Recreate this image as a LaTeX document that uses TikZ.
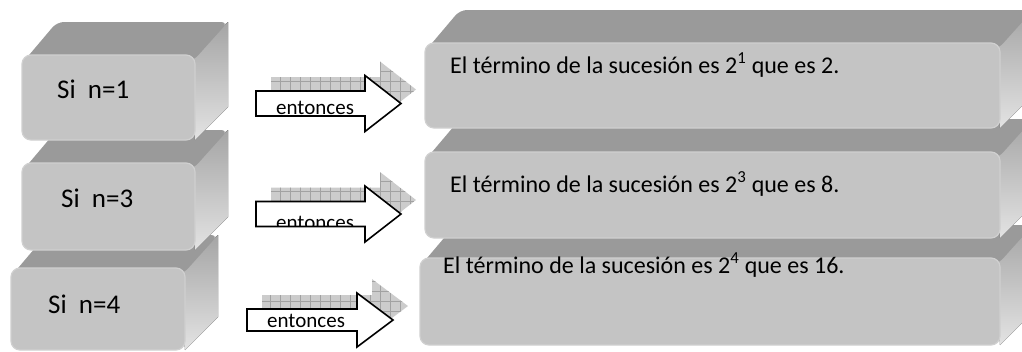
\documentclass[tikz,border=0pt]{standalone}
\usepackage{fontspec}
\setmainfont{Carlito}
\usepackage{tikz}
\usetikzlibrary{patterns.meta}

\definecolor{frontgray}{HTML}{C4C4C4}
\definecolor{rimgray}{HTML}{D0D0D0}
\definecolor{topgray}{HTML}{9A9A9A}
\definecolor{sidegray}{HTML}{E3E3E3}
\definecolor{shadowgray}{HTML}{CCCCCC}
\definecolor{hatchgray}{HTML}{A2A2A2}

\tikzset{
  front/.style={draw=rimgray,line width=1.2pt,fill=frontgray,rounded corners=9pt},
  topface/.style={fill=topgray,rounded corners=7pt},
  sideface/.style={top color=topgray!85!sidegray,middle color=sidegray,bottom color=sidegray},
  whitearrow/.style={draw=black,fill=white,line width=1.6pt,line join=miter},
  shadowarrow/.style={preaction={fill=shadowgray},pattern={Hatch[angle=0,distance=10pt,line width=0.5pt]},pattern color=hatchgray},
  lefttext/.style={inner sep=0pt,anchor=base west,font=\fontsize{27}{32}\selectfont},
  righttext/.style={inner sep=0pt,anchor=base west,font=\fontsize{24}{29}\selectfont},
  arrowtext/.style={inner sep=0pt,anchor=base west,font=\fontsize{21}{25}\selectfont}
}

\begin{document}
\begin{tikzpicture}[x=1pt,y=-1pt]
\useasboundingbox (0,0) rectangle (1022,351);
\clip (0,0) rectangle (1022,351);
% bloques, de abajo hacia arriba
\foreach \xa/\ya/\xb/\yb in {11/268/185/350,22/163/195/250,22/55/195/140,
                             420/258/1000/345,425/152/1000/238,425/43/1000/128}{
  \fill[sideface] ({\xb-6},\ya) -- ({\xb+33},{\ya-33}) -- ({\xb+33},{\yb-33}) -- (\xb,\yb) -- cycle;
  \fill[topface] ({\xa+2},{\ya+6}) -- ({\xa+35},{\ya-33}) -- ({\xb+33},{\ya-33}) -- ({\xb-2},{\ya+6}) -- cycle;
  \draw[front] (\xa,\ya) rectangle (\xb,\yb);
}
\node[lefttext] (si1) at (57,98) {Si~~n=1};
\node[lefttext] (si3) at (61,207) {Si~~n=3};
\node[lefttext] (si4) at (48,313) {Si~~n=4};
\node[righttext] (res1) at (450,73) {El término de la sucesión es 2\textsuperscript{1} que es 2.};
\node[righttext] (res3) at (450,192) {El término de la sucesión es 2\textsuperscript{3} que es 8.};
\node[righttext] (res4) at (443,273) {El término de la sucesión es 2\textsuperscript{4} que es 16.};
% flechas
\foreach \xl/\xh/\xt/\ym/\bh/\hh in {256/365/401/103.5/12.5/28,256/365/401/214/12.5/28,247/357/393/320/11/27}{
  \path[shadowarrow,shift={(15,-14)}] (\xl,{\ym-\bh}) -- (\xh,{\ym-\bh}) -- (\xh,{\ym-\hh}) -- (\xt,\ym)
    -- (\xh,{\ym+\hh}) -- (\xh,{\ym+\bh}) -- (\xl,{\ym+\bh}) -- cycle;
  \draw[whitearrow] (\xl,{\ym-\bh}) -- (\xh,{\ym-\bh}) -- (\xh,{\ym-\hh}) -- (\xt,\ym)
    -- (\xh,{\ym+\hh}) -- (\xh,{\ym+\bh}) -- (\xl,{\ym+\bh}) -- cycle;
}
\node[arrowtext] (ent1) at (276,114) {entonces};
\begin{scope}
  \clip (257,202) rectangle (364,225);
  \node[arrowtext] (ent3) at (276,229) {entonces};
\end{scope}
\node[arrowtext] (ent4) at (267,327) {entonces};
\end{tikzpicture}
\end{document}
